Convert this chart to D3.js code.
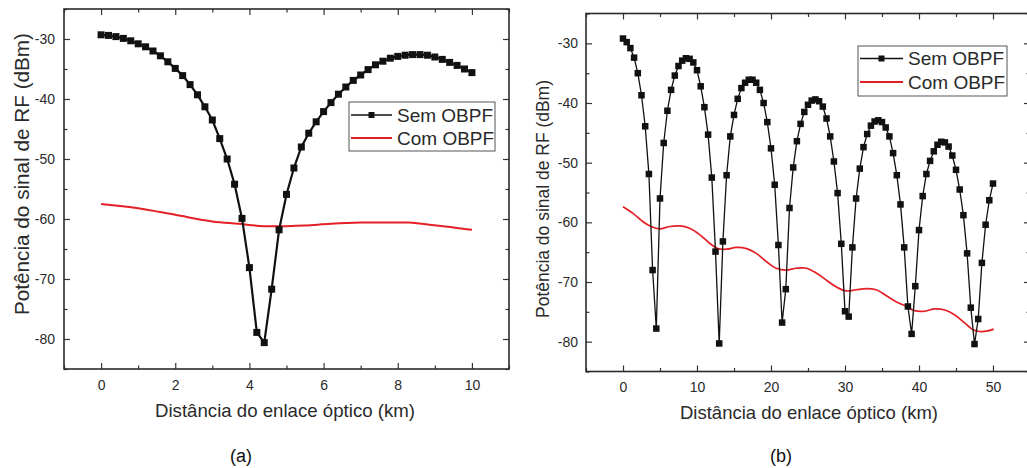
<!DOCTYPE html>
<html><head><meta charset="utf-8">
<script src="https://cdn.jsdelivr.net/npm/d3@7/dist/d3.min.js"></script>
<style>
body{margin:0;background:#fff}
svg{display:block}
text{font-family:"Liberation Sans",Arial,sans-serif}
</style>
</head><body>
<svg id="chart" width="1027" height="468"></svg>
<script>
// ---------- DATA ----------
const seriesNames = ["Sem OBPF", "Com OBPF"];
const panelLabels = ["(a)", "(b)"];
const xTitle = "Distância do enlace óptico (km)";
const yTitle = "Potência do sinal de RF (dBm)";

// Panel (a): 0-10 km
const distA = [0,0.2,0.4,0.6,0.8,1,1.2,1.4,1.6,1.8,2,2.2,2.4,2.6,2.8,3,3.2,3.4,3.6,3.8,4,4.2,4.4,4.6,4.8,5,5.2,5.4,5.6,5.8,6,6.2,6.4,6.6,6.8,7,7.2,7.4,7.6,7.8,8,8.2,8.4,8.6,8.8,9,9.2,9.4,9.6,9.8,10];
const semA = [-29.3,-29.4,-29.6,-29.9,-30.3,-30.8,-31.3,-32.0,-32.8,-33.8,-34.9,-36.1,-37.6,-39.3,-41.3,-43.5,-46.6,-50.0,-54.2,-59.9,-68.1,-78.9,-80.6,-71.7,-61.8,-55.9,-51.5,-48.0,-45.7,-43.8,-42.1,-40.6,-39.2,-38.0,-36.9,-36.0,-35.1,-34.3,-33.7,-33.2,-32.9,-32.7,-32.6,-32.6,-32.7,-33.0,-33.4,-33.9,-34.4,-35.0,-35.6];
const comA_x = [0,1,2,3,3.7,4.4,5,5.5,6.2,7,7.6,8.3,8.9,9.5,10];
const comA = [-57.5,-58.2,-59.3,-60.4,-60.8,-61.2,-61.2,-61.1,-60.8,-60.6,-60.6,-60.6,-61.0,-61.4,-61.8];
const xTicksA = [0,2,4,6,8,10];
const xMinorA = [-1,1,3,5,7,9,11];

// Panel (b): 0-50 km
const distB = [0,0.5,1,1.5,2,2.5,3,3.5,4,4.5,5,5.5,6,6.5,7,7.5,8,8.5,9,9.5,10,10.5,11,11.5,12,12.5,13,13.5,14,14.5,15,15.5,16,16.5,17,17.5,18,18.5,19,19.5,20,20.5,21,21.5,22,22.5,23,23.5,24,24.5,25,25.5,26,26.5,27,27.5,28,28.5,29,29.5,30,30.5,31,31.5,32,32.5,33,33.5,34,34.5,35,35.5,36,36.5,37,37.5,38,38.5,39,39.5,40,40.5,41,41.5,42,42.5,43,43.5,44,44.5,45,45.5,46,46.5,47,47.5,48,48.5,49,49.5,50];
const semB = [-29.2,-29.8,-30.8,-32.4,-35.0,-38.7,-43.9,-51.9,-68.0,-77.8,
  -56.0,-46.7,-41.3,-37.8,-35.4,-33.8,-32.9,-32.5,-32.6,-33.2,
  -34.5,-37.2,-40.7,-45.3,-52.5,-64.9,-80.3,-63.2,-52.1,-45.6,
  -42.0,-39.3,-37.5,-36.6,-36.1,-36.1,-36.6,-37.8,-40.0,-43.2,
  -47.6,-53.7,-63.8,-76.8,-71.2,-57.6,-50.8,-46.4,-43.5,-41.5,
  -40.3,-39.6,-39.4,-39.7,-40.6,-42.6,-45.6,-49.8,-55.1,-63.6,
  -74.9,-75.8,-64.2,-56.0,-51.0,-47.4,-45.2,-43.8,-43.1,-42.9,
  -43.2,-44.1,-45.6,-48.4,-52.1,-57.0,-64.2,-74.1,-78.7,-70.7,
  -61.3,-55.6,-51.9,-49.7,-48.1,-47.0,-46.5,-46.6,-47.3,-48.8,
  -51.2,-54.5,-58.8,-65.2,-74.3,-80.4,-76.2,-66.8,-60.4,-56.3,-53.5];
const comB_x = [0,1.35,2.7,3.8,4.95,6.3,7.66,9.0,10.4,11.7,12.8,14.0,15.3,16.7,18.0,19.4,20.7,22.1,23.4,24.8,26.1,27.5,28.8,30.2,31.5,32.9,34.2,35.6,36.9,38.3,39.4,40.8,42.1,43.5,44.8,46.2,47.3,48.2,49.3,50.1];
const comB = [-57.4,-58.5,-59.9,-60.7,-61.1,-60.7,-60.6,-61.0,-62.1,-63.5,-64.4,-64.5,-64.2,-64.4,-65.2,-66.6,-67.7,-68.0,-67.7,-67.7,-68.5,-69.7,-70.8,-71.5,-71.3,-71.1,-71.3,-72.3,-73.3,-74.1,-74.8,-74.9,-74.5,-74.7,-75.5,-76.9,-78.0,-78.3,-78.2,-77.9];
const xTicksB = [0,10,20,30,40,50];
const xMinorB = [-5,5,15,25,35,45,55];

const yTicks = [-80,-70,-60,-50,-40,-30];
const yMinor = [-85,-75,-65,-55,-45,-35,-25];

// ---------- DRAW ----------
const svg = d3.select("#chart");
const RED = "#e41f26";
const TXT = "#2a2a2a";
const fmtNum = d => String(d); // plain hyphen minus, as in the reference

function panel(cfg) {
  const x = d3.scaleLinear().domain(cfg.xDomain).range([cfg.left, cfg.right]);
  const y = d3.scaleLinear().domain([-85, -25]).range([cfg.bottom, cfg.top]);
  const g = svg.append("g");

  const ax = (gen, tv, size, fmt, pad) => gen.tickValues(tv).tickSize(size).tickSizeOuter(0).tickPadding(pad).tickFormat(fmt);
  const addAxis = (axis, tx, ty) => {
    const a = g.append("g").attr("transform", `translate(${tx},${ty})`).call(axis);
    a.select(".domain").remove();
    a.selectAll("line").attr("stroke", "#333").attr("stroke-width", 1.2);
    a.selectAll("text").attr("fill", TXT).style("font-size", "14px").attr("font-family", "Liberation Sans, Arial, sans-serif");
    return a;
  };
  const none = () => "";
  addAxis(ax(d3.axisBottom(x), cfg.xTicks, -6, fmtNum, 11), 0, cfg.bottom);
  addAxis(ax(d3.axisBottom(x), cfg.xMinor, -3.5, none, 0), 0, cfg.bottom);
  addAxis(ax(d3.axisTop(x), cfg.xTicks, -6, none, 0), 0, cfg.top);
  addAxis(ax(d3.axisTop(x), cfg.xMinor, -3.5, none, 0), 0, cfg.top);
  addAxis(ax(d3.axisLeft(y), yTicks, -6, fmtNum, cfg.yPad), cfg.left, 0);
  addAxis(ax(d3.axisLeft(y), yMinor, -3.5, none, 0), cfg.left, 0);
  addAxis(ax(d3.axisRight(y), yTicks, -6, none, 0), cfg.right, 0);
  addAxis(ax(d3.axisRight(y), yMinor, -3.5, none, 0), cfg.right, 0);

  g.append("rect").attr("x", cfg.left).attr("y", cfg.top)
    .attr("width", cfg.right - cfg.left).attr("height", cfg.bottom - cfg.top)
    .attr("fill", "none").attr("stroke", "#2b2b2b").attr("stroke-width", 1.6);

  const redPts = cfg.comX.map((d, i) => [d, cfg.com[i]]);
  g.append("path").datum(redPts)
    .attr("d", d3.line().x(d => x(d[0])).y(d => y(d[1])).curve(d3.curveCatmullRom.alpha(0.5)))
    .attr("fill", "none").attr("stroke", RED).attr("stroke-width", cfg.redW);

  const blkPts = cfg.semX.map((d, i) => [d, cfg.sem[i]]);
  g.append("path").datum(blkPts)
    .attr("d", d3.line().x(d => x(d[0])).y(d => y(d[1])))
    .attr("fill", "none").attr("stroke", "#111").attr("stroke-width", cfg.blackW);
  const ms = cfg.marker;
  g.selectAll("rect.m").data(blkPts).enter().append("rect").attr("class", "m")
    .attr("x", d => x(d[0]) - ms / 2).attr("y", d => y(d[1]) - ms / 2)
    .attr("width", ms).attr("height", ms).attr("fill", "#111");

  const L = cfg.legend;
  g.append("rect").attr("x", L.x).attr("y", L.y).attr("width", L.w).attr("height", L.h)
    .attr("fill", "#fff").attr("stroke", "#555").attr("stroke-width", 1);
  g.append("line").attr("x1", L.x + 2).attr("x2", L.x + 2 + L.lineW).attr("y1", L.r1).attr("y2", L.r1)
    .attr("stroke", "#111").attr("stroke-width", 1.5);
  g.append("rect").attr("x", L.x + 2 + L.lineW / 2 - 3).attr("y", L.r1 - 3).attr("width", 6).attr("height", 6).attr("fill", "#111");
  g.append("line").attr("x1", L.x + 2).attr("x2", L.x + 2 + L.lineW).attr("y1", L.r2).attr("y2", L.r2)
    .attr("stroke", RED).attr("stroke-width", 1.8);
  [L.r1, L.r2].forEach((ry, i) => {
    g.append("text").attr("x", L.tx).attr("y", ry).attr("dy", "0.35em")
      .attr("fill", TXT).style("font-size", L.fs + "px").text(seriesNames[i]);
  });

  g.append("text").attr("x", cfg.xt.x).attr("y", cfg.xt.y).attr("text-anchor", "middle")
    .attr("fill", TXT).style("font-size", cfg.xt.fs + "px")
    .attr("textLength", cfg.xt.len).attr("lengthAdjust", "spacingAndGlyphs").text(xTitle);
  g.append("text").attr("transform", `translate(${cfg.yt.x},${cfg.yt.y}) rotate(-90)`)
    .attr("text-anchor", "middle").attr("dy", "0.35em")
    .attr("fill", TXT).style("font-size", cfg.yt.fs + "px")
    .attr("textLength", cfg.yt.len).attr("lengthAdjust", "spacingAndGlyphs").text(yTitle);
  g.append("text").attr("x", cfg.cap.x).attr("y", 462).attr("text-anchor", "middle")
    .attr("fill", "#111").style("font-size", "18px").text(cfg.cap.t);
}

panel({
  xDomain: [-1, 11], left: 64, right: 509, top: 9, bottom: 369,
  xTicks: xTicksA, xMinor: xMinorA, yPad: 9,
  semX: distA, sem: semA, comX: comA_x, com: comA,
  blackW: 2.2, redW: 2, marker: 7,
  legend: {x: 349, y: 102, w: 146, h: 49, lineW: 41, r1: 115, r2: 138, tx: 397, fs: 19},
  xt: {x: 285, y: 417, fs: 18.5, len: 260},
  yt: {x: 22, y: 174, fs: 20, len: 282},
  cap: {x: 241, t: panelLabels[0]}
});

panel({
  xDomain: [-5, 55], left: 586, right: 1030, top: 13.5, bottom: 371.5,
  xTicks: xTicksB, xMinor: xMinorB, yPad: 8,
  semX: distB, sem: semB, comX: comB_x, com: comB,
  blackW: 1.3, redW: 1.7, marker: 6.5,
  legend: {x: 858, y: 46, w: 149, h: 50, lineW: 43, r1: 58.5, r2: 82, tx: 908, fs: 19},
  xt: {x: 809, y: 419, fs: 18.5, len: 258},
  yt: {x: 543, y: 199, fs: 17.5, len: 238},
  cap: {x: 781, t: panelLabels[1]}
});
</script>
</body></html>
